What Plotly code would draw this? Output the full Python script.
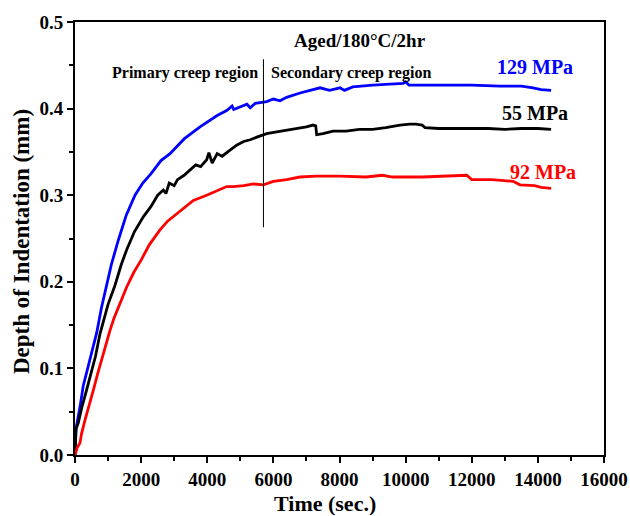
import plotly.graph_objects as go

# ------------------------------------------------------------
# Dati (tempo in s, profondità in mm)
# ------------------------------------------------------------

t_129 = [0, 30, 100, 150, 250, 390, 520, 655, 800, 958, 1100, 1310, 1550, 1815, 2050,
         2300, 2600, 2874, 3300, 3781, 4300, 4600, 4750, 4800, 5000, 5200, 5300, 5450,
         5798, 6000, 6200, 6400, 6806, 7411, 7700, 8016, 8150, 8400, 9000, 9921, 10000,
         10100, 11000, 12000, 12855, 13500, 13854, 14100, 14400]
d_129 = [0.0, 0.03, 0.045, 0.055, 0.080, 0.102, 0.122, 0.141, 0.170, 0.198, 0.220,
         0.248, 0.277, 0.300, 0.314, 0.325, 0.340, 0.348, 0.365, 0.379, 0.392, 0.398,
         0.403, 0.399, 0.402, 0.405, 0.401, 0.406, 0.408, 0.411, 0.409, 0.413, 0.418,
         0.424, 0.421, 0.424, 0.421, 0.425, 0.427, 0.429, 0.431, 0.427, 0.427, 0.427,
         0.426, 0.426, 0.424, 0.422, 0.421]

t_55 = [0, 30, 100, 200, 350, 500, 620, 756, 880, 1000, 1210, 1400, 1563, 1800, 2066,
        2300, 2500, 2672, 2750, 2850, 3000, 3100, 3300, 3478, 3650, 3800, 3983, 4050,
        4150, 4300, 4450, 4688, 4900, 5100, 5300, 5500, 5798, 6100, 6400, 6806, 7000,
        7200, 7280, 7310, 7500, 7805, 8200, 8600, 9000, 9400, 9830, 10133, 10300, 10500,
        10587, 11000, 11848, 12500, 13000, 13500, 14000, 14400]
d_55 = [0.0, 0.030, 0.037, 0.054, 0.075, 0.095, 0.114, 0.140, 0.158, 0.174, 0.196, 0.220,
        0.237, 0.258, 0.275, 0.287, 0.300, 0.306, 0.302, 0.314, 0.311, 0.318, 0.323,
        0.329, 0.335, 0.333, 0.341, 0.349, 0.337, 0.348, 0.345, 0.352, 0.358, 0.362,
        0.364, 0.367, 0.371, 0.373, 0.375, 0.377, 0.379, 0.381, 0.380, 0.370, 0.371,
        0.374, 0.374, 0.376, 0.376, 0.378, 0.381, 0.382, 0.382, 0.381, 0.378, 0.377,
        0.377, 0.377, 0.376, 0.377, 0.377, 0.376]

t_92 = [0, 60, 151, 200, 300, 420, 555, 680, 800, 930, 1059, 1180, 1300, 1430, 1563,
        1780, 2000, 2250, 2571, 2800, 3000, 3300, 3579, 3983, 4300, 4587, 4789, 5100,
        5400, 5697, 6000, 6400, 6806, 7300, 8000, 8800, 9300, 9600, 10500, 11500, 11848,
        12000, 12600, 13250, 13460, 13900, 14100, 14400]
d_92 = [0.0, 0.008, 0.014, 0.025, 0.04, 0.058, 0.075, 0.093, 0.11, 0.128, 0.144, 0.158,
        0.17, 0.183, 0.194, 0.211, 0.225, 0.243, 0.26, 0.270, 0.276, 0.286, 0.294, 0.300,
        0.305, 0.310, 0.310, 0.311, 0.313, 0.312, 0.316, 0.318, 0.321, 0.322, 0.322,
        0.321, 0.323, 0.321, 0.321, 0.322, 0.323, 0.318, 0.318, 0.316, 0.312, 0.311,
        0.309, 0.308]

# Linea di separazione tra regione primaria e secondaria
t_confine = 5700
d_confine = [0.263, 0.457]

FONT = "Liberation Serif"

# ------------------------------------------------------------
# Grafico
# ------------------------------------------------------------

fig = go.Figure()

for t, d, colore in [(t_129, d_129, "#0000ff"), (t_55, d_55, "#000000"), (t_92, d_92, "#ff0000")]:
    fig.add_trace(go.Scatter(x=t, y=d, mode="lines",
                             line=dict(color=colore, width=2.8), showlegend=False))

fig.add_shape(type="line", x0=t_confine, x1=t_confine, y0=d_confine[0], y1=d_confine[1],
              line=dict(color="black", width=1))

testi = [
    ("Aged/180°C/2hr", 8620, 0.479, "black", 19),
    ("Primary creep region", 3327, 0.441, "black", 16),
    ("Secondary creep region", 8333, 0.441, "black", 16),
    ("129 MPa", 13914, 0.448, "#0000ff", 20),
    ("55 MPa", 13900, 0.395, "black", 20),
    ("92 MPa", 14156, 0.327, "#ff0000", 20),
]
for testo, x, y, colore, size in testi:
    fig.add_annotation(x=x, y=y, text="<b>" + testo + "</b>", showarrow=False,
                       font=dict(family=FONT, size=size, color=colore))

# titoli degli assi come annotazioni (posizione controllata)
fig.add_annotation(x=0.473, y=-0.111, xref="paper", yref="paper",
                   xanchor="center", yanchor="middle",
                   text="<b>Time (sec.)</b>", showarrow=False,
                   font=dict(family=FONT, size=22, color="black"))
fig.add_annotation(x=-0.100, y=0.492, xref="paper", yref="paper", textangle=-90,
                   xanchor="center", yanchor="middle",
                   text="<b>Depth of Indentation (mm)</b>", showarrow=False,
                   font=dict(family=FONT, size=23, color="black"))

asse = dict(showline=True, linecolor="black", linewidth=2, mirror=True,
            ticks="outside", ticklen=6, tickwidth=1.5, tickcolor="black",
            showgrid=False, zeroline=False, automargin=False,
            tickfont=dict(family=FONT, size=19, color="black"))

fig.update_xaxes(range=[0, 16000], dtick=2000, tickformat="d",
                 minor=dict(dtick=1000, ticks="outside", ticklen=4, tickcolor="black"),
                 tickprefix="<b>", ticksuffix="</b>", **asse)
fig.update_yaxes(range=[0, 0.5], dtick=0.1, tickformat=".1f",
                 minor=dict(dtick=0.05, ticks="outside", ticklen=4, tickcolor="black"),
                 tickprefix="<b>", ticksuffix="</b>", **asse)

fig.update_layout(
    width=630, height=516,
    margin=dict(l=75, r=26, t=22, b=61),
    plot_bgcolor="white", paper_bgcolor="white",
    font=dict(family=FONT),
)

# tolgo il margine di default della pagina html e la barra degli strumenti
fig.write_html("out.html", config={"displayModeBar": False},
               post_script="document.body.style.margin='0';")
